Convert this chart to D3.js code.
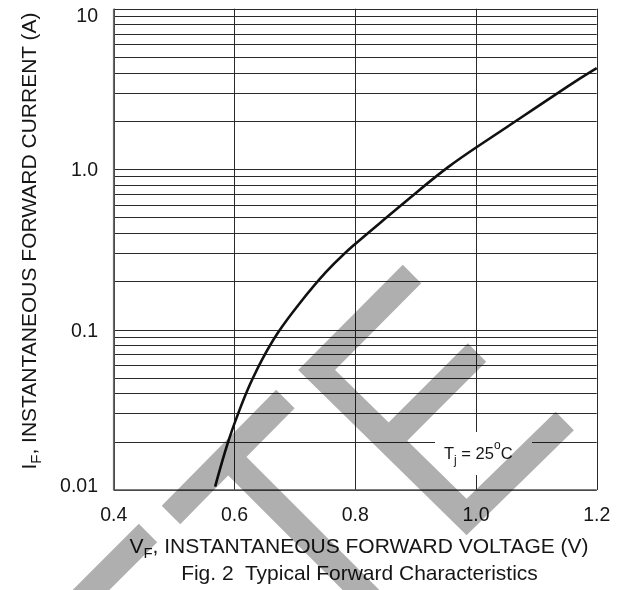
<!DOCTYPE html>
<html>
<head>
<meta charset="utf-8">
<script src="https://cdn.jsdelivr.net/npm/d3@7"></script>
<style>
  body { margin: 0; background: #fff; }
  svg text { font-family: Arial, "Liberation Sans", sans-serif; fill: #161616; }
</style>
</head>
<body>
<div id="chart"></div>
<script>
// forward voltage (V) vs forward current (A)
const vf = [0.568, 0.587, 0.608, 0.626, 0.645, 0.670, 0.705, 0.753, 0.794, 0.847, 0.902, 0.954, 1.002, 1.073, 1.159, 1.2];
const iF = [0.0105, 0.0191, 0.0315, 0.0463, 0.0646, 0.0948, 0.142, 0.235, 0.329, 0.482, 0.72, 1.04, 1.38, 2.07, 3.43, 4.26];

const xTicks = [0.4, 0.6, 0.8, 1.0, 1.2];
const xTickLabels = ["0.4", "0.6", "0.8", "1.0", "1.2"];
const yTicks = [0.01, 0.1, 1, 10];
const yTickLabels = ["0.01", "0.1", "1.0", "10"];

var width = 626, height = 590;
var plotL = 113.7, plotR = 596.7, plotT = 8.7, plotB = 490;

var svg = d3.select("#chart")
    .append("svg")
    .attr("width", width)
    .attr("height", height);

var x = d3.scaleLinear().domain([0.4, 1.2]).range([plotL, plotR]);
var y = d3.scaleLog().domain([0.01, 10]).range([plotB, plotT]);

// horizontal grid, 1..9 per decade
svg.append("g")
    .selectAll("line")
    .data(y.ticks())
    .join("line")
    .attr("x1", plotL).attr("x2", plotR)
    .attr("y1", d => Math.round(y(d)) + 0.5)
    .attr("y2", d => Math.round(y(d)) + 0.5)
    .attr("stroke", "#2a2a2a")
    .attr("stroke-width", 1);

// vertical grid
svg.append("g")
    .selectAll("line")
    .data(xTicks)
    .join("line")
    .attr("x1", d => Math.round(x(d)) + 0.5)
    .attr("x2", d => Math.round(x(d)) + 0.5)
    .attr("y1", plotT).attr("y2", plotB)
    .attr("stroke", "#2a2a2a")
    .attr("stroke-width", 1);

// frame (left and bottom a bit greyer / heavier)
svg.append("line")
    .attr("x1", plotL).attr("x2", plotL).attr("y1", plotT).attr("y2", plotB)
    .attr("stroke", "#6a6a6a").attr("stroke-width", 1.6);
svg.append("line")
    .attr("x1", plotL).attr("x2", plotR).attr("y1", plotB).attr("y2", plotB)
    .attr("stroke", "#555").attr("stroke-width", 1.6);

// white box behind the temperature note
svg.append("rect")
    .attr("x", 435).attr("y", 432)
    .attr("width", 97).attr("height", 43)
    .attr("fill", "#fff");

var tj = svg.append("text")
    .attr("x", 444).attr("y", 459)
    .attr("font-size", "16.5px");
tj.append("tspan").text("T");
tj.append("tspan").attr("font-size", "12px").attr("dy", 5).text("j");
tj.append("tspan").attr("dy", -5).text(" = 25");
tj.append("tspan").attr("font-size", "12px").attr("dy", -10).text("o");
tj.append("tspan").attr("dy", 10).text("C");

// curve
var pts = vf.map((v, i) => [v, iF[i]]);
var line = d3.line()
    .x(d => x(d[0]))
    .y(d => y(d[1]))
    .curve(d3.curveBasis);

svg.append("path")
    .datum(pts)
    .attr("d", line)
    .attr("fill", "none")
    .attr("stroke", "#111")
    .attr("stroke-width", 2.6);

// tick labels
svg.append("g")
    .selectAll("text")
    .data(yTicks)
    .join("text")
    .attr("x", 98)
    .attr("y", d => Math.min(Math.max(y(d), 14.5), 485))
    .attr("dy", "0.36em")
    .attr("text-anchor", "end")
    .attr("font-size", "19.5px")
    .text((d, i) => yTickLabels[i]);

svg.append("g")
    .selectAll("text")
    .data(xTicks)
    .join("text")
    .attr("x", d => x(d))
    .attr("y", 521)
    .attr("text-anchor", "middle")
    .attr("font-size", "19.5px")
    .text((d, i) => xTickLabels[i]);

// axis titles
var xt = svg.append("text")
    .attr("x", 359).attr("y", 553)
    .attr("text-anchor", "middle")
    .attr("font-size", "21px");
xt.append("tspan").text("V");
xt.append("tspan").attr("font-size", "15px").attr("dy", 5).text("F");
xt.append("tspan").attr("dy", -5).text(", INSTANTANEOUS FORWARD VOLTAGE (V)");

var yt = svg.append("text")
    .attr("transform", "translate(36,241) rotate(-90)")
    .attr("text-anchor", "middle")
    .attr("font-size", "21px");
yt.append("tspan").text("I");
yt.append("tspan").attr("font-size", "15px").attr("dy", 5).text("F");
yt.append("tspan").attr("dy", -5).text(", INSTANTANEOUS FORWARD CURRENT (A)");

svg.append("text")
    .attr("x", 359.5).attr("y", 580)
    .attr("text-anchor", "middle")
    .attr("font-size", "21px")
    .attr("xml:space", "preserve")
    .text("Fig. 2  Typical Forward Characteristics");

// grey logo watermark laid over the figure
const mark = [
    [[148, 533], [60, 621]],
    [[171, 515], [285.4, 399]],
    [[228.2, 457], [380, 609]],
    [[412, 274], [316.6, 370], [466.6, 517], [564.8, 421]],
    [[388.8, 440.7], [477, 352.5]]
];
svg.append("g")
    .style("mix-blend-mode", "multiply")
    .selectAll("polyline")
    .data(mark)
    .join("polyline")
    .attr("points", d => d.map(p => p.join(",")).join(" "))
    .attr("fill", "none")
    .attr("stroke", "#afafaf")
    .attr("stroke-width", 26)
    .attr("stroke-linejoin", "miter")
    .attr("stroke-linecap", "butt");
</script>
</body>
</html>
